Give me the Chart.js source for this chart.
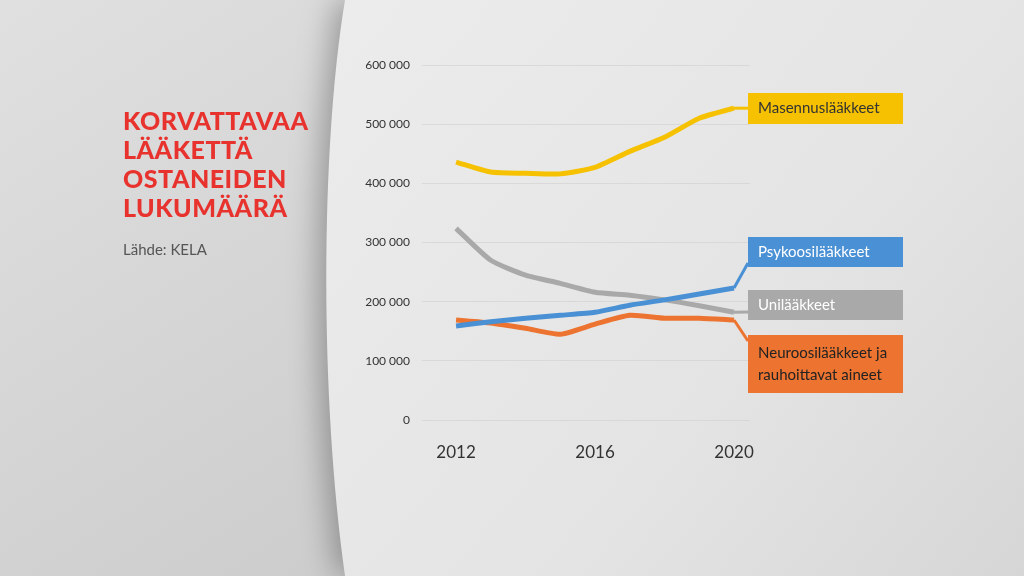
<!DOCTYPE html>
<html><head><meta charset="utf-8">
<script src="https://cdn.jsdelivr.net/npm/chart.js@4"></script>
<style>
html,body{margin:0;width:1024px;height:576px;overflow:hidden;font-family:Lato,"Open Sans",sans-serif}
#wrap{position:absolute;left:0;top:0;width:1024px;height:576px}
#title{position:absolute;left:123px;top:106px;color:#e8322e;font:900 25px/29px Lato,sans-serif;letter-spacing:0.5px}
#src{position:absolute;left:123px;top:240px;color:#555;font:15px Lato,sans-serif}
</style></head><body>
<div id="wrap"><canvas id="c" width="1024" height="576"></canvas></div>
<div id="title">KORVATTAVAA<br>LÄÄKETTÄ<br>OSTANEIDEN<br>LUKUMÄÄRÄ</div>
<div id="src">Lähde: KELA</div>
<script>
var years = [2012,2013,2014,2015,2016,2017,2018,2019,2020];
var masennus = [436000,419000,417000,416000,427000,454000,478000,510000,527000];
var psykoosi = [159000,166000,172000,177000,182000,194000,203000,213000,223000];
var uni = [324000,270000,245000,231000,216000,211000,203000,193000,182000];
var neuroosi = [169000,164000,155000,145000,162000,177000,172000,172000,169000];
var xTicks = [2012,2016,2020];
var yTicks = [0,100000,200000,300000,400000,500000,600000];

function pts(arr){ return arr.map(function(v,i){ return {x: years[i], y: v}; }); }

var bgPlugin = {
  id:'bg',
  beforeDraw: function(chart){
    var c = chart.ctx;
    c.save();
    var g = c.createLinearGradient(0,0,360,576);
    g.addColorStop(0,'#e0e0e0'); g.addColorStop(1,'#cccccc');
    c.fillStyle = g; c.fillRect(0,0,1024,576);
    c.shadowColor='rgba(0,0,0,0.3)'; c.shadowBlur=30; c.shadowOffsetX=-8;
    c.beginPath();
    c.moveTo(345,0);
    c.bezierCurveTo(320,150,320,400,345,576);
    c.lineTo(1024,576); c.lineTo(1024,0); c.closePath();
    var g2 = c.createLinearGradient(340,0,1024,576);
    g2.addColorStop(0,'#ececec'); g2.addColorStop(0.6,'#e4e4e4'); g2.addColorStop(1,'#d6d6d6');
    c.fillStyle = g2; c.fill();
    c.restore();
  }
};

var labels = [
  {ds:0, text:['Masennuslääkkeet'], color:'#f6c100', tc:'#333', y:93, h:31},
  {ds:1, text:['Psykoosilääkkeet'], color:'#4a90d4', tc:'#fff', y:237, h:30},
  {ds:2, text:['Unilääkkeet'], color:'#a9a9a9', tc:'#fff', y:290, h:30},
  {ds:3, text:['Neuroosilääkkeet ja','rauhoittavat aineet'], color:'#ec7430', tc:'#222', y:335, h:58}
];
var labelPlugin = {
  id:'lbl',
  afterDatasetsDraw: function(chart){
    var c = chart.ctx;
    c.save();
    labels.forEach(function(l){
      var meta = chart.getDatasetMeta(l.ds);
      var p = meta.data[meta.data.length-1];
      var bx = 748, bw = 155;
      c.strokeStyle = l.color; c.lineWidth = 3;
      c.beginPath(); c.moveTo(p.x, p.y);
      var ty = Math.min(Math.max(p.y, l.y+8), l.y+l.h-8);
      if (l.ds===1) ty = l.y+l.h-4;
      if (l.ds===3) ty = l.y+6;
      c.lineTo(bx, ty); c.stroke();
      c.fillStyle = l.color; c.fillRect(bx, l.y, bw, l.h);
      c.fillStyle = l.tc; c.font = '15px Lato, sans-serif'; c.textBaseline='middle';
      l.text.forEach(function(t,i){
        var yy = l.y + l.h/2 + (i - (l.text.length-1)/2)*22;
        c.fillText(t, bx+10, yy);
      });
    });
    c.restore();
  }
};

function ds(data,color){ return {data:pts(data), borderColor:color, borderWidth:5, pointRadius:0, tension:0.2, fill:false}; }

new Chart(document.getElementById('c'), {
  type:'line',
  data:{ datasets:[ ds(masennus,'#f6c100'), ds(psykoosi,'#4a90d4'), ds(uni,'#a9a9a9'), ds(neuroosi,'#ec7430') ] },
  options:{
    responsive:false, animation:false,
    layout:{padding:{left:360,right:274,top:65,bottom:96}},
    plugins:{legend:{display:false}, tooltip:{enabled:false}},
    scales:{
      x:{type:'linear', min:2011.25, max:2020.46,
        afterBuildTicks:function(s){ s.ticks = xTicks.map(function(v){return {value:v};}); },
        afterFit:function(s){ s.height=60; },
        grid:{display:false}, border:{display:false},
        ticks:{color:'#333', font:{family:'Lato', size:17}, padding:14, callback:function(v){return String(v);}}},
      y:{min:0, max:600000,
        afterBuildTicks:function(s){ s.ticks = yTicks.map(function(v){return {value:v};}); },
        afterFit:function(s){ s.width=70; },
        grid:{color:'rgba(200,200,200,0.45)', lineWidth:1}, border:{display:false},
        ticks:{color:'#333', font:{family:'Lato', size:12}, padding:12,
          callback:function(v){ return v===0?'0':String(v/1000)+' 000'; }}}
    }
  },
  plugins:[bgPlugin, labelPlugin]
});
</script></body></html>
